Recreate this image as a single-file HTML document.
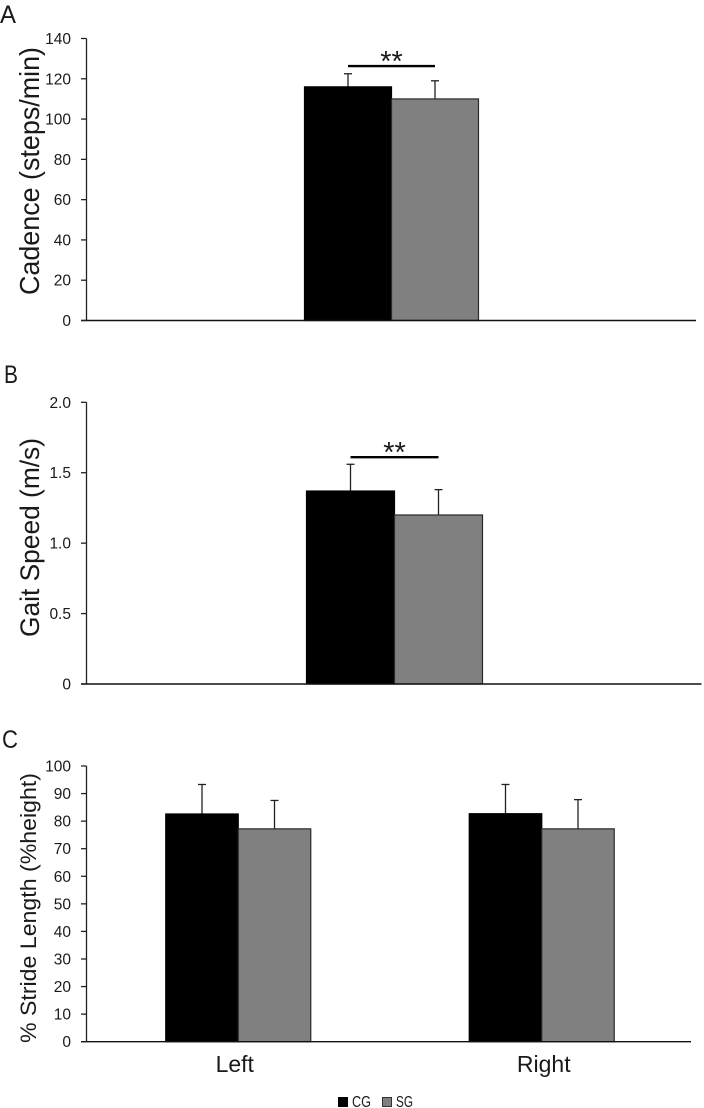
<!DOCTYPE html>
<html>
<head>
<meta charset="utf-8">
<title>Gait parameters bar charts</title>
<style>
html,body{margin:0;padding:0;background:#fff;}
body{width:704px;height:1108px;overflow:hidden;}
svg{display:block;}
text{font-family:"Liberation Sans",sans-serif;fill:#1a1a1a;}
</style>
</head>
<body>
<svg id="figure" width="704" height="1108" viewBox="0 0 704 1108" xmlns="http://www.w3.org/2000/svg">
  <text x="0" y="23" font-size="25" textLength="16" lengthAdjust="spacingAndGlyphs">A</text>
  <text x="4" y="383" font-size="25" textLength="14" lengthAdjust="spacingAndGlyphs">B</text>
  <text x="2" y="748" font-size="25" textLength="16" lengthAdjust="spacingAndGlyphs">C</text>

  <text transform="translate(39,295) rotate(-90)" font-size="28" textLength="248" lengthAdjust="spacingAndGlyphs">Cadence (steps/min)</text>
  <text transform="translate(39,637) rotate(-90)" font-size="27" textLength="199" lengthAdjust="spacingAndGlyphs">Gait Speed (m/s)</text>
  <text transform="translate(36,1043) rotate(-90)" font-size="22" textLength="270" lengthAdjust="spacingAndGlyphs">% Stride Length (%height)</text>

  <g id="panel-a"></g>
  <g id="panel-b"></g>
  <g id="panel-c"></g>

  <g>
    <rect x="338" y="1097" width="10" height="10" fill="#000"></rect>
    <text x="352" y="1107" font-size="15.5" textLength="19" lengthAdjust="spacingAndGlyphs">CG</text>
    <rect x="382.5" y="1097.5" width="9" height="9" fill="#808080" stroke="#333" stroke-width="1"></rect>
    <text x="396" y="1107" font-size="15.5" textLength="17" lengthAdjust="spacingAndGlyphs">SG</text>
  </g>
</svg>
<script>
const cadenceTicks = ["0", "20", "40", "60", "80", "100", "120", "140"];
const cadenceCategories = [""];
const cadenceCG = [116];
const cadenceSG = [110];
const cadenceCGErr = [6.5];
const cadenceSGErr = [9];
const cadenceSig = [126.3];

const speedTicks = ["0", "0.5", "1.0", "1.5", "2.0"];
const speedCategories = [""];
const speedCG = [1.37];
const speedSG = [1.2];
const speedCGErr = [0.19];
const speedSGErr = [0.18];
const speedSig = [1.61];

const strideTicks = ["0", "10", "20", "30", "40", "50", "60", "70", "80", "90", "100"];
const strideCategories = ["Left", "Right"];
const strideCG = [82.6, 82.7];
const strideSG = [77.2, 77.2];
const strideCGErr = [10.7, 10.6];
const strideSGErr = [10.3, 10.6];
const strideSig = [];

const NS = 'http://www.w3.org/2000/svg';

function svgEl(parent, tag, attrs) {
  const el = document.createElementNS(NS, tag);
  for (const k in attrs) el.setAttribute(k, attrs[k]);
  parent.appendChild(el);
  return el;
}

function drawPanel(group, frame, ticks, categories, cg, sg, cgErr, sgErr, sig) {
  const maxVal = Math.max.apply(null, ticks.map(Number));
  const yScale = function (v) { return frame.yBase - (v / maxVal) * (frame.yBase - frame.yTop); };
  const catW = (frame.x1 - frame.x0) / categories.length;
  const xCenter = function (i) { return frame.x0 + catW * (i + 0.5); };

  categories.forEach(function (cat, i) {
    const c = xCenter(i);
    const series = [
      { name: 'cg', v: cg[i], e: cgErr[i], x: c - frame.barW, fill: '#000', stroke: '#000' },
      { name: 'sg', v: sg[i], e: sgErr[i], x: c, fill: '#808080', stroke: '#2b2b2b' }
    ];
    series.forEach(function (s) {
      const mid = s.x + frame.barW / 2;
      const errLine = svgEl(group, 'line', { x1: mid, x2: mid, y1: yScale(s.v), y2: yScale(s.v + s.e), stroke: '#222', 'stroke-width': 1.3 });
      
      
      const errCap = svgEl(group, 'line', { x1: mid - 4, x2: mid + 4, y1: yScale(s.v + s.e), y2: yScale(s.v + s.e), stroke: '#222', 'stroke-width': 1.3 });
      
      
      const bar = svgEl(group, 'rect', { x: s.x, y: yScale(s.v), width: frame.barW, height: frame.yBase - yScale(s.v), fill: s.fill, stroke: s.stroke, 'stroke-width': 1.2 });
      
      
    });
    if (cat) {
      const label = svgEl(group, 'text', { x: c + (i ? 2 : -3.5), y: frame.yBase + 30.5, 'font-size': 23, 'text-anchor': 'middle' });
      label.textContent = cat;
      
      
    }
  });

  sig.forEach(function (v, i) {
    const c = xCenter(i);
    const sigY = yScale(v);
    const line = svgEl(group, 'line', { x1: c - frame.barW / 2, x2: c + frame.barW / 2, y1: sigY, y2: sigY, stroke: '#000', 'stroke-width': 2.4 });
    
    
    const stars = svgEl(group, 'text', { x: c, y: sigY + 5, 'font-size': 29, 'text-anchor': 'middle' });
    stars.textContent = '**';
    
    
  });

  const yAxis = svgEl(group, 'line', { x1: frame.x0, x2: frame.x0, y1: frame.yTop, y2: frame.yBase, stroke: '#222', 'stroke-width': 1.3 });
  
  
  const xAxis = svgEl(group, 'line', { x1: frame.x0 - 5.5, x2: frame.axisEnd, y1: frame.yBase, y2: frame.yBase, stroke: '#111', 'stroke-width': 1.4 });
  
  

  ticks.forEach(function (t) {
    const y = yScale(Number(t));
    const mark = svgEl(group, 'line', { x1: frame.x0 - 5.5, x2: frame.x0, y1: y, y2: y, stroke: '#222', 'stroke-width': 1.3 });
    
    
    const label = svgEl(group, 'text', { x: 71, y: y + 5.5, 'font-size': 15.5, 'text-anchor': 'end' });
    label.textContent = t;
    
    
  });
}

drawPanel(document.getElementById('panel-a'),
  { x0: 86.5, x1: 696.5, axisEnd: 696, yTop: 38.5, yBase: 320.5, barW: 87 },
  cadenceTicks, cadenceCategories, cadenceCG, cadenceSG, cadenceCGErr, cadenceSGErr, cadenceSig);

drawPanel(document.getElementById('panel-b'),
  { x0: 86.5, x1: 702.5, axisEnd: 701.5, yTop: 402.3, yBase: 684, barW: 88 },
  speedTicks, speedCategories, speedCG, speedSG, speedCGErr, speedSGErr, speedSig);

drawPanel(document.getElementById('panel-c'),
  { x0: 86.5, x1: 693.5, axisEnd: 691, yTop: 766, yBase: 1041.7, barW: 72.5 },
  strideTicks, strideCategories, strideCG, strideSG, strideCGErr, strideSGErr, strideSig);
</script>
</body>
</html>
